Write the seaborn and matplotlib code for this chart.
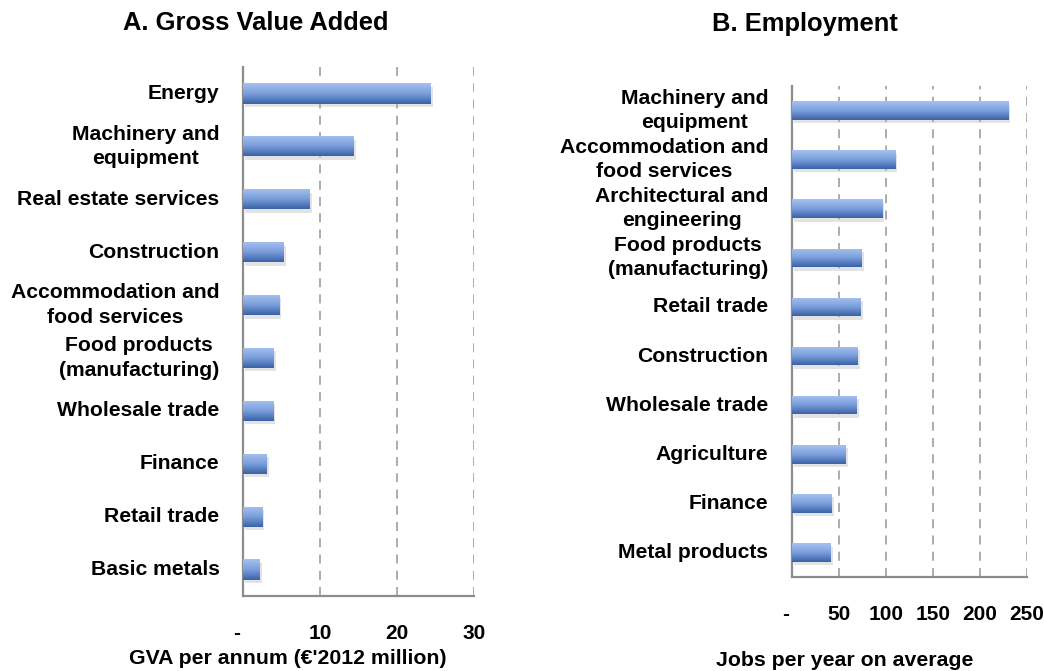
import numpy as np
import pandas as pd
import seaborn as sns
import matplotlib.pyplot as plt
import matplotlib.patheffects as pe
from matplotlib.colors import LinearSegmentedColormap

# data (top to bottom)
gva_sectors = ['Energy', 'Machinery and\nequipment', 'Real estate services', 'Construction',
               'Accommodation and\nfood services', 'Food products\n(manufacturing)',
               'Wholesale trade', 'Finance', 'Retail trade', 'Basic metals']
gva_values = [24.4, 14.4, 8.7, 5.3, 4.7, 4.0, 3.9, 3.1, 2.5, 2.2]

emp_sectors = ['Machinery and\nequipment', 'Accommodation and\nfood services',
               'Architectural and\nengineering', 'Food products\n(manufacturing)',
               'Retail trade', 'Construction', 'Wholesale trade', 'Agriculture',
               'Finance', 'Metal products']
emp_values = [230, 110, 96, 74, 73, 70, 69, 57, 42, 41]

gva_ticks = [0, 10, 20, 30]
gva_ticklabels = ['-  ', '10', '20', '30']
emp_ticks = [0, 50, 100, 150, 200, 250]
emp_ticklabels = ['-  ', '50', '100', '150', '200', '250']

sns.set_style("white")
plt.rcParams['font.family'] = ['Liberation Sans', 'DejaVu Sans']
plt.rcParams['font.weight'] = 'bold'
plt.rcParams['text.color'] = 'black'
plt.rcParams['xtick.color'] = 'black'
plt.rcParams['ytick.color'] = 'black'

grey = '#8C8C8C'
grad = LinearSegmentedColormap.from_list('bar', ['#A6C1EF', '#7B9FDC', '#3A62A6'])

fig = plt.figure(figsize=(10.44, 6.71), dpi=100)
ax1 = fig.add_axes([243 / 1044, 1 - 596 / 671, 231 / 1044, 529 / 671])
ax2 = fig.add_axes([792 / 1044, 1 - 577 / 671, 235 / 1044, 491 / 671])


def draw_panel(ax, sectors, values, ticks, ticklabels, xmax):
    df = pd.DataFrame({'sector': sectors, 'value': values})
    sns.barplot(data=df, x='value', y='sector', orient='h', width=0.38,
                color='#6F93D3', ax=ax, zorder=2)
    ax.set_xlim(0, xmax)
    ax.set_ylim(len(sectors) - 0.5, -0.5)
    xl, yl = ax.get_xlim(), ax.get_ylim()

    # vertical gradient + soft shadow on every bar
    g = np.linspace(0, 1, 64).reshape(-1, 1)
    for p in ax.patches:
        p.set_edgecolor('none')
        p.set_path_effects([pe.SimplePatchShadow(offset=(1.5, -2.5), shadow_rgbFace='#B0B0B0', alpha=0.35),
                            pe.Normal()])
        x0, y0, w, h = p.get_x(), p.get_y(), p.get_width(), p.get_height()
        im = ax.imshow(g, cmap=grad, aspect='auto', origin='upper',
                       extent=(x0, x0 + w, y0 + h, y0), zorder=3)
        im.set_clip_path(p)
    ax.set_xlim(xl)
    ax.set_ylim(yl)

    ax.set_xticks(ticks)
    ax.set_xticklabels(ticklabels, fontsize=15, fontweight='bold')
    ax.set_yticks(range(len(sectors)))
    ax.set_yticklabels(sectors, fontsize=15.2, fontweight='bold', va='center')
    for lbl in ax.get_yticklabels():
        lbl.set_multialignment('center')
        lbl.set_linespacing(1.35)
    ax.set_yticks(np.arange(-0.5, len(sectors)), minor=True)
    ax.tick_params(axis='y', which='major', length=0, pad=17)
    ax.tick_params(axis='y', which='minor', length=5, width=1.3, color=grey, direction='out')
    ax.tick_params(axis='x', which='major', length=5, width=1.3, color=grey,
                   direction='out', pad=15)

    ax.xaxis.grid(True, linestyle=(0, (5, 4)), color='#A6A6A6', linewidth=1.3, zorder=0)
    ax.set_axisbelow(True)
    for s in ['top', 'right']:
        ax.spines[s].set_visible(False)
    for s in ['left', 'bottom']:
        ax.spines[s].set_color(grey)
        ax.spines[s].set_linewidth(1.6)
    ax.set_xlabel('')
    ax.set_ylabel('')


draw_panel(ax1, gva_sectors, gva_values, gva_ticks, gva_ticklabels, 30)
draw_panel(ax2, emp_sectors, emp_values, emp_ticks, emp_ticklabels, 250)

fig.text(256 / 1044, 1 - 23 / 671, 'A. Gross Value Added', ha='center', va='center',
         fontsize=18.4, fontweight='bold')
fig.text(805 / 1044, 1 - 24 / 671, 'B. Employment', ha='center', va='center',
         fontsize=18.4, fontweight='bold')
fig.text(288 / 1044, 1 - 658 / 671, "GVA per annum (€'2012 million)", ha='center', va='center',
         fontsize=15.3, fontweight='bold')
fig.text(845 / 1044, 1 - 660 / 671, 'Jobs per year on average', ha='center', va='center',
         fontsize=15.3, fontweight='bold')

fig.savefig('out.png', dpi=100, facecolor='white')
